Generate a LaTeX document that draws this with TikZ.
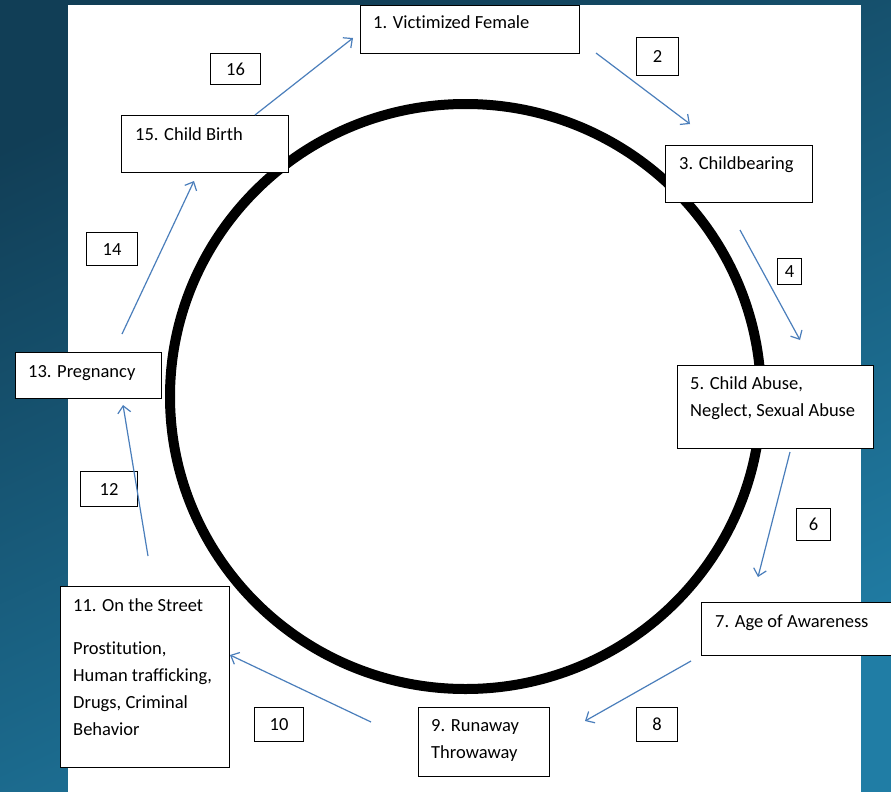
\documentclass[tikz,border=0pt]{standalone}
\usepackage{fontspec}
\setmainfont{Carlito}[Ligatures=NoCommon]
\usetikzlibrary{arrows.meta}
\definecolor{bgdark}{RGB}{17,62,86}
\definecolor{bglight}{RGB}{32,125,165}
\definecolor{arrowblue}{RGB}{74,126,187}
\tikzset{
  box/.style={draw=black, line width=1.2pt, fill=white, anchor=north west, inner sep=0pt},
  numbox/.style={draw=black, line width=1.1pt, fill=white, anchor=north west, inner sep=0pt},
  txt/.style={anchor=base west, inner sep=0pt, align=left, font=\fontsize{18.5}{27}\selectfont},
  numtxt/.style={inner sep=0pt, font=\fontsize{18.5}{20}\selectfont},
  flow/.style={draw=arrowblue, line width=1.2pt, -{Straight Barb[length=7pt,width=13pt,line width=1.2pt]}},
  ring/.style={draw=black, line width=10pt}
}
\begin{document}
\begin{tikzpicture}[x=1pt,y=-1pt]
\useasboundingbox (0,0) rectangle (891,792);
\shade[top color=bgdark, bottom color=bglight, shading angle=25] (0,0) rectangle (891,792);
\fill[white] (68,5) rectangle (861,792);
% ring
\draw[ring] (465.5,396.5) ellipse [x radius=295.5, y radius=292.5];
% main boxes
\node[box, minimum width=219pt, minimum height=48pt] (b1) at (360,5) {};
\node[txt] (t1) at (373,29) {1. Victimized Female};
\node[box, minimum width=147pt, minimum height=57pt] (b3) at (665,145) {};
\node[txt] (t3) at (679,169) {3. Childbearing};
\node[box, minimum width=196pt, minimum height=83pt] (b5) at (677,365) {};
\node[txt] (t5) at (690,416) {5. Child Abuse,\\Neglect, Sexual Abuse};
\node[box, minimum width=200pt, minimum height=53pt] (b7) at (701,602) {};
\node[txt] (t7) at (715,627) {7. Age of Awareness};
\node[box, minimum width=131pt, minimum height=69pt] (b9) at (418,707) {};
\node[txt] (t9) at (431,758) {9. Runaway\\Throwaway};
\node[box, minimum width=169pt, minimum height=181pt] (b11) at (60,586) {};
\node[txt] (t11) at (73,735) {11. On the Street\\[16pt]Prostitution,\\Human trafficking,\\Drugs, Criminal\\Behavior};
\node[box, minimum width=146pt, minimum height=46pt] (b13) at (15,352) {};
\node[txt] (t13) at (28,377) {13. Pregnancy};
\node[box, minimum width=167pt, minimum height=57pt] (b15) at (121,115) {};
\node[txt] (t15) at (135,140) {15. Child Birth};
% number boxes
\node[numbox, minimum width=42pt, minimum height=38pt] (n2) at (636,37) {};
\node[numtxt] (l2) at (n2.center) {2};
\node[numbox, minimum width=24pt, minimum height=26pt] (n4) at (777,258) {};
\node[numtxt] (l4) at (n4.center) {4};
\node[numbox, minimum width=34pt, minimum height=32pt] (n6) at (796,508) {};
\node[numtxt] (l6) at (n6.center) {6};
\node[numbox, minimum width=41pt, minimum height=34pt] (n8) at (636,707) {};
\node[numtxt] (l8) at (n8.center) {8};
\node[numbox, minimum width=49pt, minimum height=34pt] (n10) at (254,707) {};
\node[numtxt] (l10) at (n10.center) {10};
\node[numbox, minimum width=57pt, minimum height=35pt] (n12) at (80,471) {};
\node[numtxt] (l12) at (n12.center) {12};
\node[numbox, minimum width=51pt, minimum height=33pt] (n14) at (86,232) {};
\node[numtxt] (l14) at (n14.center) {14};
\node[numbox, minimum width=50pt, minimum height=31pt] (n16) at (210,53) {};
\node[numtxt] (l16) at (n16.center) {16};
% connector end points
\coordinate (a2s) at (596,53);  \coordinate (a2e) at (690,124);
\coordinate (a4s) at (740,230); \coordinate (a4e) at (800,340);
\coordinate (a6s) at (790,452); \coordinate (a6e) at (758,577);
\coordinate (a8s) at (691,661); \coordinate (a8e) at (585,721);
\coordinate (a10s) at (371,722); \coordinate (a10e) at (230,655);
\coordinate (a12s) at (148,556); \coordinate (a12e) at (123,405);
\coordinate (a14s) at (122,334); \coordinate (a14e) at (194,181);
\coordinate (a16s) at (255,115); \coordinate (a16e) at (353,38);
\draw[flow] (a2s) -- (a2e);
\draw[flow] (a4s) -- (a4e);
\draw[flow] (a6s) -- (a6e);
\draw[flow] (a8s) -- (a8e);
\draw[flow] (a10s) -- (a10e);
\draw[flow] (a12s) -- (a12e);
\draw[flow] (a14s) -- (a14e);
\draw[flow] (a16s) -- (a16e);
\end{tikzpicture}
\end{document}
